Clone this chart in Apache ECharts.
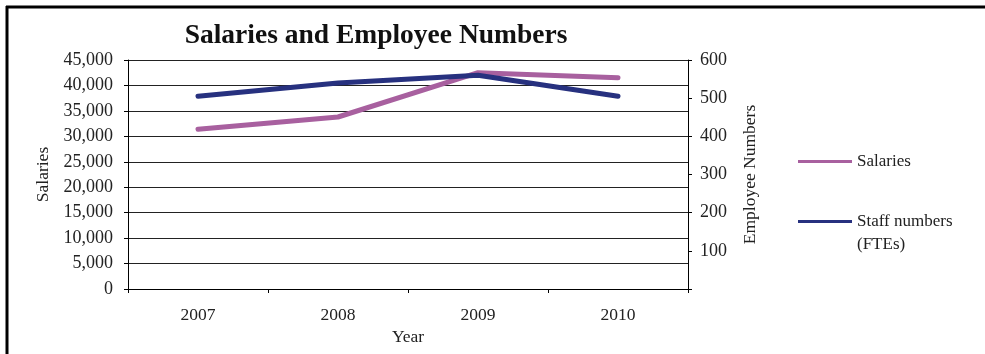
<!DOCTYPE html>
<html>
<head>
<meta charset="utf-8">
<script src="https://cdn.jsdelivr.net/npm/echarts@6/dist/echarts.min.js"></script>
<style>
  html, body { margin: 0; padding: 0; background: #fff; }
  #chart { width: 985px; height: 354px; }
</style>
</head>
<body>
<div id="chart"></div>
<script>
// Yearly salaries and staff headcount
const years = ['2007', '2008', '2009', '2010'];
const salaries = [31400, 33800, 42500, 41500];
const staffFTE = [505, 540, 560, 505];

const FONT = '"Liberation Serif", "DejaVu Serif", serif';
const salaryColor = '#a8609f';
const staffColor = '#27317f';
const STAFF_NAME = 'Staff numbers (FTEs)';

const chart = echarts.init(document.getElementById('chart'));

chart.setOption({
  backgroundColor: '#fff',
  animation: false,
  textStyle: { fontFamily: FONT, color: '#222' },
  title: {
    text: 'Salaries and Employee Numbers',
    left: 371,
    top: 17,
    textAlign: 'center',
    textStyle: { fontFamily: FONT, fontWeight: 'bold', fontSize: 27.5, color: '#111' }
  },
  grid: { left: 128, right: 297, top: 60, bottom: 65, containLabel: false },
  legend: [
    {
      data: ['Salaries'],
      orient: 'vertical',
      left: 798,
      top: 153,
      padding: 0,
      icon: 'rect',
      itemWidth: 54,
      itemHeight: 3,
      textStyle: { fontFamily: FONT, fontSize: 17, color: '#222' }
    },
    {
      data: [STAFF_NAME],
      orient: 'vertical',
      left: 798,
      top: 187,
      padding: 0,
      icon: 'rect',
      itemWidth: 54,
      itemHeight: 3,
      // blank first line keeps the key line level with "Staff numbers"
      formatter: () => ' \nStaff numbers\n(FTEs)',
      textStyle: { fontFamily: FONT, fontSize: 17, color: '#222', lineHeight: 23 }
    }
  ],
  xAxis: {
    type: 'category',
    data: years,
    boundaryGap: true,
    name: 'Year',
    nameLocation: 'middle',
    nameGap: 38,
    nameTextStyle: { fontFamily: FONT, fontSize: 17.5, color: '#222' },
    axisLine: { lineStyle: { color: '#000', width: 1 } },
    axisTick: { show: true, length: 4, lineStyle: { color: '#000' } },
    axisLabel: { margin: 17, fontFamily: FONT, fontSize: 17.5, color: '#222' },
    splitLine: { show: false }
  },
  yAxis: [
    {
      type: 'value',
      min: 0,
      max: 45000,
      interval: 5000,
      name: 'Salaries',
      nameLocation: 'middle',
      nameGap: 76,
      nameRotate: 90,
      nameTextStyle: { fontFamily: FONT, fontSize: 17.5, color: '#222' },
      axisLine: { show: true, lineStyle: { color: '#000', width: 1 } },
      axisTick: { show: true, length: 4, lineStyle: { color: '#000' } },
      axisLabel: {
        margin: 15,
        fontFamily: FONT,
        fontSize: 18,
        color: '#222',
        formatter: v => v.toLocaleString('en-US')
      },
      splitLine: { show: true, lineStyle: { color: '#222', width: 1 } }
    },
    {
      type: 'value',
      min: 0,
      max: 600,
      interval: 100,
      position: 'right',
      name: 'Employee Numbers',
      nameLocation: 'middle',
      nameGap: 53,
      nameRotate: 90,
      nameTextStyle: { fontFamily: FONT, fontSize: 17.5, color: '#222' },
      axisLine: { show: true, lineStyle: { color: '#000', width: 1 } },
      axisTick: { show: true, length: 4, lineStyle: { color: '#000' } },
      axisLabel: {
        margin: 12,
        fontFamily: FONT,
        fontSize: 18,
        color: '#222',
        formatter: v => (v === 0 ? '' : String(v))
      },
      splitLine: { show: false }
    }
  ],
  series: [
    {
      name: 'Salaries',
      type: 'line',
      yAxisIndex: 0,
      data: salaries,
      showSymbol: false,
      symbol: 'none',
      lineStyle: { color: salaryColor, width: 5, cap: 'round', join: 'round' },
      itemStyle: { color: salaryColor },
      z: 3
    },
    {
      name: STAFF_NAME,
      type: 'line',
      yAxisIndex: 1,
      data: staffFTE,
      showSymbol: false,
      symbol: 'none',
      lineStyle: { color: staffColor, width: 5, cap: 'round', join: 'round' },
      itemStyle: { color: staffColor },
      z: 4
    }
  ],
  graphic: [
    { type: 'line', shape: { x1: 6, y1: 7, x2: 985, y2: 7 }, style: { stroke: '#000', lineWidth: 3 } },
    { type: 'line', shape: { x1: 7, y1: 6, x2: 7, y2: 354 }, style: { stroke: '#000', lineWidth: 3 } }
  ]
});
</script>
</body>
</html>
